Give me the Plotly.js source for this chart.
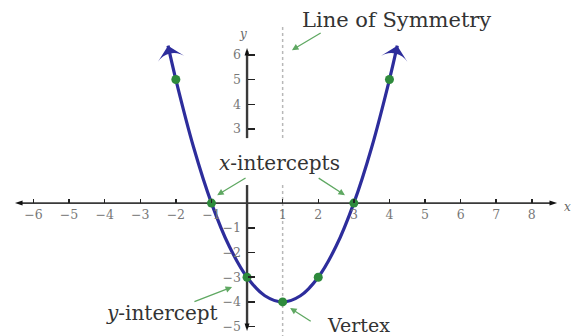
<!DOCTYPE html>
<html>
<head>
<meta charset="utf-8">
<script src="https://cdn.plot.ly/plotly-3.0.1.min.js"></script>
<style>html,body{margin:0;padding:0;background:#fff;}#chart{width:571px;height:336px;}</style>
</head>
<body>
<div id="chart"></div>
<script>
// Parabola curve
var curveX = [-2.22, -2, -1.5, -1, -0.5, 0, 0.5, 1, 1.5, 2, 2.5, 3, 3.5, 4, 4.22];
var curveY = [6.37, 5, 2.25, 0, -1.75, -3, -3.75, -4, -3.75, -3, -1.75, 0, 2.25, 5, 6.37];
// Highlighted points
var pointX = [-2, -1, 0, 1, 2, 3, 4];
var pointY = [5, 0, -3, -4, -3, 0, 5];
// Tick labels
var xTicks = [-6, -5, -4, -3, -2, -1, 1, 2, 3, 4, 5, 6, 7, 8];
var yTicks = [-5, -4, -3, -2, -1, 3, 4, 5, 6];
// Labels
var labelTexts = ["Line of Symmetry", "<i>x</i>-intercepts", "<i>y</i>-intercept", "Vertex"];

var xr = [-6.94, 9.10], yr = [-5.38, 8.22];
var serif = "DejaVu Serif, Liberation Serif, serif";
var blue = "#2d2d9c", green = "#2e8a3c", arrowGreen = "#5fa862", axisCol = "#3a3a3a";

var traces = [
  // symmetry line (gap where the label sits)
  {x: [1, 1, null, 1, 1], y: [7.13, 2.63, null, 0.73, -5.4], mode: "lines",
   line: {color: "#b8b8b8", width: 1.5, dash: "dot"}, hoverinfo: "skip"},
  // x axis
  {x: [-6.4, 8.6], y: [0, 0], mode: "lines", line: {color: axisCol, width: 1.6}, hoverinfo: "skip"},
  {x: [-6.52, 8.71], y: [0, 0], mode: "markers",
   marker: {symbol: "arrow", size: 8, angle: [270, 90], color: "#111"}, hoverinfo: "skip"},
  // y axis (gap behind the x-intercepts label)
  {x: [0, 0, null, 0, 0], y: [-5.05, 0.73, null, 2.63, 6.15], mode: "lines",
   line: {color: axisCol, width: 2.4}, hoverinfo: "skip"},
  {x: [0, 0], y: [6.28, -5.18], mode: "markers",
   marker: {symbol: "arrow", size: 8, angle: [0, 180], color: "#111"}, hoverinfo: "skip"},
  // parabola
  {x: curveX, y: curveY, mode: "lines", line: {color: blue, width: 3.2, shape: "spline"}, hoverinfo: "skip"},
  {x: [curveX[0], curveX[curveX.length - 1]], y: [curveY[0], curveY[curveY.length - 1]], mode: "markers",
   marker: {symbol: "arrow-wide", size: 19, angle: [-13, 13], color: blue}, hoverinfo: "skip"},
  // points
  {x: pointX, y: pointY, mode: "markers", marker: {color: green, size: 9}, hoverinfo: "skip"}
];

function pointer(hx, hy, tx, ty) {
  return {x: hx, y: hy, ax: tx, ay: ty, xref: "x", yref: "y", axref: "x", ayref: "y",
    text: "", showarrow: true, arrowhead: 2, arrowsize: 1, arrowwidth: 1.3, arrowcolor: arrowGreen};
}
function label(t, x, y, size) {
  return {x: x, y: y, xref: "x", yref: "y", text: t, showarrow: false,
    font: {family: serif, size: size || 18, color: "#333"}};
}

var annotations = [
  label(labelTexts[0], 4.19, 7.41, 21),
  label(labelTexts[1], 0.9, 1.62, 20),
  label(labelTexts[2], -2.39, -4.45, 20),
  label(labelTexts[3], 3.12, -4.95, 19),
  pointer(1.26, 6.19, 2.11, 6.92),
  pointer(-0.84, 0.32, 0.0, 1.05),
  pointer(2.75, 0.32, 1.97, 1.05),
  pointer(-0.42, -3.40, -1.52, -4.01),
  pointer(1.21, -4.25, 1.83, -4.82),
  {x: 8.99, y: -0.15, xref: "x", yref: "y", text: "<i>x</i>", showarrow: false,
   font: {family: serif, size: 12, color: "#666"}},
  {x: -0.11, y: 6.85, xref: "x", yref: "y", text: "<i>y</i>", showarrow: false,
   font: {family: serif, size: 12, color: "#666"}}
];

var layout = {
  width: 571, height: 336,
  margin: {l: 0, r: 0, t: 0, b: 0},
  paper_bgcolor: "#fff", plot_bgcolor: "#fff",
  showlegend: false,
  xaxis: {range: xr, anchor: "free", position: (0 - yr[0]) / (yr[1] - yr[0]),
    showgrid: false, zeroline: false, showline: false,
    tickmode: "array", tickvals: xTicks, ticks: "inside", ticklen: 4, tickwidth: 1.5, tickcolor: "#222",
    ticklabelstandoff: 2,
    tickfont: {family: serif, size: 12.5, color: "#777"}, fixedrange: true},
  yaxis: {range: yr, anchor: "free", position: (0 - xr[0]) / (xr[1] - xr[0]),
    showgrid: false, zeroline: false, showline: false,
    tickmode: "array", tickvals: yTicks, ticks: "inside", ticklen: 7, tickwidth: 1.5, tickcolor: "#222",
    ticklabelstandoff: 6,
    tickfont: {family: serif, size: 12.5, color: "#777"}, fixedrange: true},
  annotations: annotations
};

Plotly.newPlot("chart", traces, layout, {staticPlot: true, displayModeBar: false});
</script>
</body>
</html>
